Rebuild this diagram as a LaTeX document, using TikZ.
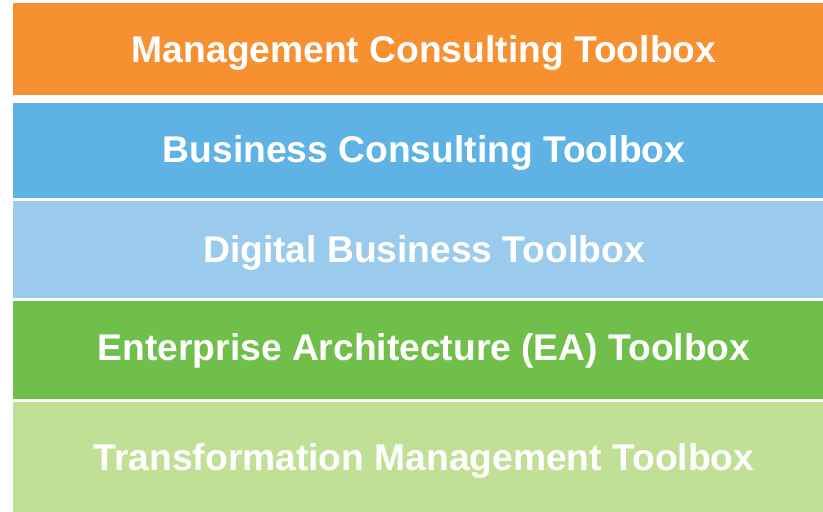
\documentclass[tikz,border=0pt]{standalone}
\usepackage{fontspec}
\setmainfont{Liberation Sans}
\definecolor{tangerine}{RGB}{247, 144, 48}
\definecolor{skyblue}{RGB}{95, 178, 228}
\definecolor{paleblue}{RGB}{155, 203, 236}
\definecolor{leafgreen}{RGB}{112, 191, 74}
\definecolor{palegreen}{RGB}{192, 224, 150}
\tikzset{
  toollabel/.style={color=white, anchor=base, inner sep=0pt, font=\fontsize{37.2}{42}\selectfont\bfseries}
}

\begin{document}
\begin{tikzpicture}[x=1pt, y=-1pt]
            \useasboundingbox (0, 0) rectangle (823, 512);
            \fill[tangerine] ( 13,   3) rectangle (823,  95);
            \fill[skyblue]   ( 13, 103) rectangle (823, 198);
            \fill[paleblue]  ( 13, 201) rectangle (823, 298);
            \fill[leafgreen] ( 13, 301) rectangle (823, 399);
            \fill[palegreen] ( 13, 402) rectangle (823, 512);
            \node[toollabel] (mgmt)      at (424,  62) {Management Consulting Toolbox};
            \node[toollabel] (business)  at (424, 162) {Business Consulting Toolbox};
            \node[toollabel] (digital)   at (424, 262) {Digital Business Toolbox};
            \node[toollabel] (ea)        at (424, 360) {Enterprise Architecture (EA) Toolbox};
            \node[toollabel] (transform) at (424, 470) {Transformation Management Toolbox};
        \end{tikzpicture}
\end{document}
